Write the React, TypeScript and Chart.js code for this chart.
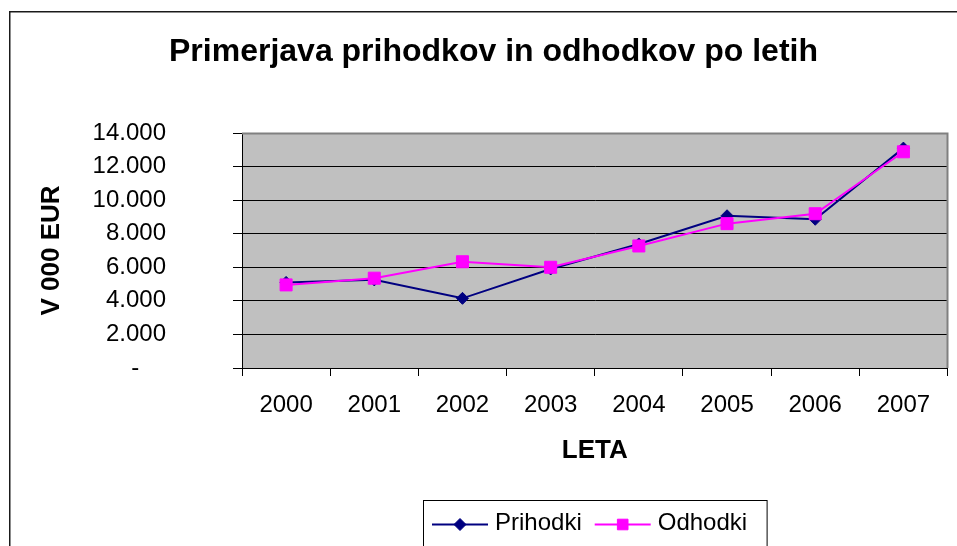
import React, { useEffect, useRef } from 'react';
import { Chart, registerables } from 'chart.js';

Chart.register(...registerables);

const years = ['2000', '2001', '2002', '2003', '2004', '2005', '2006', '2007'];
const prihodki = [5100, 5250, 4150, 5900, 7390, 9070, 8860, 13100];
const odhodki = [4950, 5350, 6330, 6000, 7270, 8600, 9190, 12880];
const yTickLabels = ['-    ', '2.000', '4.000', '6.000', '8.000', '10.000', '12.000', '14.000'];
const seriesNames = ['Prihodki', 'Odhodki'];
const seriesColors = ['#000080', '#FF00FF'];
const titleText = 'Primerjava prihodkov in odhodkov po letih';
const yTitle = 'V 000 EUR';
const xTitle = 'LETA';

const FONT = "'Liberation Sans', Arial, sans-serif";

function drawMarker(ctx: CanvasRenderingContext2D, style: string, x: number, y: number, r: number, color: string) {
  ctx.save();
  ctx.fillStyle = color;
  ctx.strokeStyle = color;
  ctx.lineWidth = 1;
  ctx.beginPath();
  if (style === 'rectRot') {
    ctx.moveTo(x - r, y);
    ctx.lineTo(x, y - r);
    ctx.lineTo(x + r, y);
    ctx.lineTo(x, y + r);
    ctx.closePath();
  } else {
    const s = r * Math.SQRT1_2;
    ctx.rect(x - s, y - s, 2 * s, 2 * s);
  }
  ctx.fill();
  ctx.stroke();
  ctx.restore();
}

const framePlugin = {
  id: 'frame',
  beforeDraw(chart: any) {
    const { ctx, chartArea } = chart;
    ctx.save();
    ctx.fillStyle = '#ffffff';
    ctx.fillRect(0, 0, chart.width, chart.height);
    ctx.fillStyle = '#C0C0C0';
    ctx.fillRect(chartArea.left, chartArea.top, chartArea.right - chartArea.left, chartArea.bottom - chartArea.top);
    ctx.restore();
  },
  beforeDatasetsDraw(chart: any) {
    const { ctx, chartArea } = chart;
    ctx.save();
    ctx.strokeStyle = '#808080';
    ctx.lineWidth = 2;
    ctx.beginPath();
    ctx.moveTo(chartArea.left, chartArea.top + 0.5);
    ctx.lineTo(chartArea.right, chartArea.top + 0.5);
    ctx.lineTo(chartArea.right, chartArea.bottom);
    ctx.stroke();
    ctx.restore();
  },
  afterDraw(chart: any) {
    const { ctx } = chart;
    ctx.save();
    // outer chart border
    ctx.strokeStyle = '#1a1a1a';
    ctx.lineWidth = 1.5;
    ctx.strokeRect(9.75, 11.75, 1200, 1200);

    // legend
    ctx.font = `24px ${FONT}`;
    ctx.textBaseline = 'alphabetic';
    ctx.textAlign = 'left';
    const boxLeft = 423.5;
    const boxTop = 500.5;
    const rowY = 524.5;
    let x = 432;
    chart.data.datasets.forEach((ds: any, i: number) => {
      const color = seriesColors[i];
      ctx.strokeStyle = color;
      ctx.lineWidth = 2;
      ctx.beginPath();
      ctx.moveTo(x, rowY);
      ctx.lineTo(x + 56, rowY);
      ctx.stroke();
      drawMarker(ctx, ds.pointStyle, x + 28, rowY, i === 0 ? 6 : 7.5, color);
      ctx.fillStyle = '#000';
      ctx.fillText(ds.label, x + 63, 529.5);
      x = x + 63 + ctx.measureText(ds.label).width + 13;
    });
    const boxRight = x - 13 + 20;
    ctx.strokeStyle = '#000';
    ctx.lineWidth = 1;
    ctx.strokeRect(boxLeft, boxTop, boxRight - boxLeft, 200);
    ctx.restore();
  },
};

export default function App() {
  const ref = useRef<HTMLCanvasElement>(null);

  useEffect(() => {
    const canvas = ref.current;
    if (!canvas) return;
    const chart = new Chart(canvas, {
      type: 'line',
      data: {
        labels: years,
        datasets: [
          {
            label: seriesNames[0],
            data: prihodki,
            borderColor: seriesColors[0],
            backgroundColor: seriesColors[0],
            borderWidth: 2,
            pointStyle: 'rectRot',
            pointRadius: 6,
            pointBorderWidth: 1,
            pointBackgroundColor: seriesColors[0],
            pointBorderColor: seriesColors[0],
            tension: 0,
            fill: false,
            order: 1,
          },
          {
            label: seriesNames[1],
            data: odhodki,
            borderColor: seriesColors[1],
            backgroundColor: seriesColors[1],
            borderWidth: 2,
            pointStyle: 'rect',
            pointRadius: 8.5,
            pointBorderWidth: 1,
            pointBackgroundColor: seriesColors[1],
            pointBorderColor: seriesColors[1],
            tension: 0,
            fill: false,
            order: 0,
          },
        ],
      },
      options: {
        responsive: false,
        animation: false,
        devicePixelRatio: 1,
        layout: { padding: { left: 30, right: 0, top: 0, bottom: 80 } },
        plugins: {
          legend: { display: false },
          tooltip: { enabled: false },
          title: {
            display: true,
            text: titleText,
            color: '#000',
            font: { family: FONT, size: 32, weight: 'bold' },
            padding: { top: 32.8, bottom: 61.8 },
          },
        },
        scales: {
          x: {
            type: 'category',
            offset: true,
            grid: {
              offset: true,
              drawOnChartArea: false,
              drawTicks: true,
              tickLength: 8,
              color: '#000',
              lineWidth: 1,
            },
            border: { color: '#000', width: 1 },
            ticks: {
              color: '#000',
              font: { family: FONT, size: 24 },
              padding: 15,
              maxRotation: 0,
              autoSkip: false,
            },
            title: {
              display: true,
              text: xTitle,
              color: '#000',
              font: { family: FONT, size: 26, weight: 'bold' },
              padding: 0,
            },
            afterFit: (s: any) => {
              s.height = 98;
            },
          },
          y: {
            min: 0,
            max: 14000,
            grid: { color: '#000', lineWidth: 1, drawTicks: true, tickLength: 9 },
            border: { color: '#000', width: 1 },
            ticks: {
              stepSize: 2000,
              color: '#000',
              font: { family: FONT, size: 24 },
              padding: 67,
              callback: (_v: any, i: number) => yTickLabels[i],
            },
            title: {
              display: true,
              text: yTitle,
              color: '#000',
              font: { family: FONT, size: 26, weight: 'bold' },
              padding: { top: 6.4, bottom: 0 },
            },
            afterFit: (s: any) => {
              s.width = 212;
            },
          },
        },
      },
      plugins: [framePlugin],
    } as any);
    return () => chart.destroy();
  }, []);

  return (
    <div style={{ position: 'absolute', left: 0, top: 0, width: 957, height: 546, background: '#fff' }}>
      <canvas ref={ref} width={957} height={546} style={{ display: 'block', width: 957, height: 546 }} />
    </div>
  );
}
